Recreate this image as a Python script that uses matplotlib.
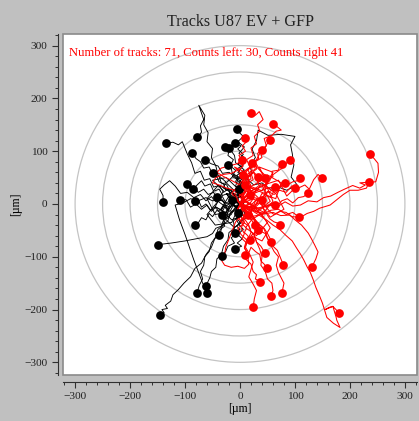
import matplotlib
matplotlib.use("Agg")
import matplotlib.pyplot as plt
from matplotlib.patches import Circle, Rectangle
from matplotlib.ticker import MultipleLocator

title = "Tracks U87 EV + GFP"
summary = "Number of tracks: 71, Counts left: 30, Counts right 41"
axis_label = "[\u00b5m]"
ring_radii = [50, 100, 150, 200, 250, 300]
tick_values = [-300, -200, -100, 0, 100, 200, 300]

# Tracks ending left of the origin, flat x0, y0, x1, y1, ... in µm
left_tracks = [
    [0, 0, -8, 10, -3, 18, -15, 15, -22, 28, -30, 22, -38, 35, -48, 32, -55, 48, -65, 45, -72, 62, -82, 58, -88, 78, -96, 95, -105, 118, -112, 112, -122, 117, -135, 115],
    [0, 0, -6, 12, -14, 8, -20, 24, -30, 30, -26, 42, -40, 55, -44, 72, -52, 88, -50, 105, -60, 118, -58, 135, -66, 150, -64, 168, -75, 187, -70, 172, -66, 160, -72, 148, -70, 136, -78, 126],
    [0, 0, -10, 6, -8, 18, -18, 22, -24, 36, -34, 40, -38, 52, -50, 56, -56, 70, -66, 68, -72, 80, -80, 86, -87, 96],
    [0, 0, -10, -4, -16, 6, -26, 2, -32, 14, -42, 10, -48, 22, -58, 18, -66, 28, -76, 22, -84, 34, -92, 30, -96, 38],
    [0, 0, -6, 10, -16, 8, -22, 20, -32, 16, -38, 28, -48, 24, -54, 38, -64, 34, -70, 44, -78, 36, -85, 28],
    [0, 0, -10, 4, -18, -6, -28, -2, -34, -12, -44, -6, -52, -14, -60, -2, -70, -10, -80, 0, -90, -6, -98, 8, -109, 8],
    [0, 0, -8, -6, -16, 2, -26, -4, -32, 8, -44, 4, -52, 14, -62, 6, -72, 18, -84, 12, -96, 22, -108, 20, -118, 34, -128, 44, -138, 36, -146, 28, -140, 16, -140, 4],
    [0, 0, -6, -8, -14, -2, -22, -12, -30, -4, -38, -14, -46, -6, -54, -12, -62, 0, -70, -6, -76, 8, -82, 6],
    [0, 0, 4, 10, -4, 18, 2, 28, -8, 34, -4, 46, -14, 52, -8, 64, -18, 72, -12, 84, -22, 92, -20, 100, -27, 108],
    [0, 0, -5, 10, 3, 18, -4, 28, 5, 36, -6, 46, 4, 56, -6, 66, 6, 74, -2, 84, 6, 94, -4, 104, 2, 110, -9, 115],
    [0, 0, 6, 8, -3, 16, 7, 26, -4, 34, 6, 44, -6, 54, 8, 64, -4, 76, 10, 86, -2, 96, 8, 108, -4, 118, 6, 128, -2, 136, -5, 142],
    [0, 0, -8, -6, -14, 2, -20, -10, -28, -6, -34, -18, -42, -12, -50, -24, -56, -18, -62, -30, -70, -26, -76, -36, -82, -40],
    [0, 0, -6, -10, -16, -14, -20, -26, -30, -30, -34, -42, -44, -46, -50, -56, -60, -62, -80, -66, -100, -70, -125, -74, -149, -77],
    [0, 0, -6, -8, -12, -2, -18, -14, -24, -10, -22, -24, -30, -30, -28, -42, -36, -48, -38, -58],
    [0, 0, 4, -8, -4, -14, 3, -22, -6, -28, 2, -36, -6, -42, 0, -48, -9, -55],
    [0, 0, -6, -10, 2, -18, -8, -28, -2, -38, -12, -46, -6, -56, -16, -64, -10, -74, -22, -80, -26, -90, -33, -98],
    [0, 0, 4, -10, -4, -18, 5, -28, -3, -38, 6, -48, -4, -58, 4, -66, -5, -74, 3, -80, -9, -85],
    [0, 0, -6, -12, -2, -24, -12, -32, -10, -46, -20, -54, -22, -68, -30, -80, -34, -96, -42, -104, -44, -120, -52, -128, -55, -140, -62, -155],
    [0, 0, -10, -8, -16, -20, -26, -26, -30, -40, -40, -48, -44, -62, -52, -74, -56, -90, -64, -100, -66, -116, -72, -128, -68, -142, -74, -154, -78, -168],
    [0, 0, -12, 4, -24, 0, -36, 8, -50, 6, -62, 12, -76, 6, -90, 10, -104, 2, -118, -2, -110, -30, -100, -58, -92, -82, -84, -106, -76, -128, -68, -150, -62, -160, -60, -168],
    [0, 0, -8, -12, -18, -18, -22, -32, -32, -40, -36, -56, -46, -66, -52, -82, -62, -96, -70, -112, -82, -122, -90, -138, -102, -150, -112, -162, -122, -172, -126, -184, -136, -192, -132, -198, -142, -200, -138, -206, -145, -211],
    [0, 0, -20, 15, -35, -10, -15, -30, 10, -20, 5, 10, -25, 40, -10, 55, 8, 35, -2, 28],
    [0, 0, -6, 8, -2, 16, -12, 18, -18, 28, -26, 26, -30, 38, -38, 42, -42, 52, -49, 58],
    [0, 0, -15, 25, -40, 35, -60, 10, -45, -20, -20, -15, -30, 5, -42, 13],
    [0, 0, 12, -25, -10, -45, -30, -25, -15, 5, -25, 20, -8, -5, -3, -17],
    [0, 0, -4, 10, 4, 18, -6, 26, 2, 34, -8, 42, -4, 52, -14, 58, -16, 68, -22, 74],
    [0, 0, -20, -20, -45, -5, -30, 25, -50, 45, -25, 50, -5, 30, -20, 20, -15, 8],
    [0, 0, -15, -35, -45, -40, -60, -20, -40, 5, -20, -10, -33, -21],
    [0, 0, 6, 10, 0, 20, 8, 30, -2, 40, 6, 52, -4, 60, 4, 70, -8, 78, -10, 92, -20, 106],
    [0, 0, 8, 12, 2, 24, 14, 34, 10, 48, 22, 58, 18, 72, 28, 88, 22, 104, 30, 120, 33, 140, 51, 130, 75, 132, 100, 128, 92, 112, 95, 96, 98, 74, 93, 51, 104, 36, 85, 26, 70, 32, 55, 28, 40, 40, 25, 36, 10, 50, -5, 48, -20, 60, -32, 58, -40, 72, -52, 76, -64, 83],
]

# Tracks ending right of the origin
right_tracks = [
    [0, 0, 6, 10, 2, 22, 10, 30, 4, 42, 14, 50, 8, 62, 18, 70, 12, 84, 24, 92, 20, 106, 30, 114, 26, 128, 36, 138, 32, 150, 42, 160, 35, 175, 28, 168, 20, 172],
    [0, 0, 8, 8, 6, 20, 16, 26, 12, 38, 24, 46, 20, 58, 30, 66, 28, 80, 40, 88, 36, 102, 48, 110, 44, 124, 58, 130, 66, 138, 75, 140, 68, 146, 60, 151],
    [0, 0, 6, 10, -2, 20, 8, 28, -4, 38, -18, 46, -30, 52, -42, 60, -34, 68, -20, 72, -6, 76, 4, 82, -2, 92, 10, 100, 4, 110, 12, 118, 9, 125],
    [0, 0, 10, 6, 16, -2, 24, 10, 22, 22, 32, 26, 38, 38, 48, 34, 52, 46, 60, 52, 58, 62, 70, 64, 72, 72, 76, 75],
    [0, 0, 12, 6, 20, -2, 30, 8, 42, 14, 50, 24, 62, 18, 72, 26, 84, 22, 94, 34, 106, 30, 118, 36, 126, 28, 134, 46, 142, 56, 149, 49],
    [0, 0, 8, -6, 16, 2, 24, -4, 30, 10, 40, 6, 48, 16, 56, 12, 62, 26, 72, 30, 76, 40, 82, 40],
    [0, 0, 25, 10, 15, 35, 40, 25, 60, 60, 35, 70, 45, 49],
    [0, 0, -10, 20, 20, 35, 5, 60, 30, 75, 45, 50, 33, 51],
    [0, 0, 10, -6, 18, 2, 28, -6, 38, 4, 48, -4, 58, 2, 66, -6, 76, 6, 86, 10, 96, 2, 106, 12, 116, 14, 124, 21],
    [0, 0, 6, 8, -2, 14, 4, 22, -10, 26, -24, 30, -38, 36, -50, 40, -44, 50, -30, 56, -16, 58, -4, 64, 6, 72, -2, 78, 4, 83],
    [0, 0, 12, 4, 22, -4, 34, 2, 46, -6, 58, 0, 70, -4, 82, 4, 96, -4, 110, -2, 124, 6, 140, 4, 152, 12, 165, 15, 178, 22, 190, 28, 205, 35, 218, 30, 228, 36, 218, 40, 247, 42, 252, 60, 251, 77, 244, 86, 236, 94],
    [0, 0, 10, -8, 20, -4, 30, -14, 44, -18, 56, -12, 70, -10, 84, -20, 96, -16, 109, -26, 122, -18, 134, -14, 145, -8, 164, -2, 176, 8, 188, 18, 200, 26, 215, 26, 230, 30, 235, 42],
    [0, 0, 10, -4, 18, -12, 28, -6, 38, -10, 46, -4, 54, -14, 62, -20, 72, -14, 84, -16, 94, -24, 107, -25],
    [0, 0, 6, -10, 12, -18, 20, -16, 24, -28, 30, -36, 28, -48, 38, -52, 46, -56, 50, -66, 56, -72],
    [0, 0, 8, -8, 14, -16, 6, -26, 8, -36, 16, -42, 20, -52, 26, -60, 30, -72, 38, -80, 45, -92],
    [0, 0, 10, -8, 20, -14, 26, -28, 34, -38, 44, -46, 50, -56, 56, -68, 60, -80, 68, -88, 72, -98, 76, -108, 78, -115],
    [0, 0, -4, -12, 2, -22, -8, -34, -14, -50, -20, -66, -26, -82, -28, -96, -34, -106, -28, -116, -16, -120, -4, -118, 8, -122, 16, -114, 14, -98, 20, -82, 28, -90, 36, -96, 38, -108, 44, -114, 49, -121],
    [0, 0, 12, -6, 24, -4, 36, -12, 48, -18, 60, -16, 74, -22, 91, -21, 100, -30, 112, -40, 124, -55, 130, -66, 136, -78, 142, -91, 138, -104, 131, -119],
    [0, 0, 6, -12, 2, -24, 8, -36, -4, -46, 2, -58, 12, -68, 8, -82, 14, -94, 10, -104, 20, -114, 24, -128, 30, -134, 28, -142, 36, -147],
    [0, 0, 8, -10, 16, -20, 22, -32, 30, -44, 26, -58, 30, -72, 36, -86, 40, -100, 38, -116, 46, -128, 50, -142, 58, -150, 60, -164, 56, -175],
    [0, 0, 12, -12, 24, -24, 32, -36, 44, -48, 50, -64, 56, -78, 62, -90, 70, -100, 66, -116, 70, -130, 76, -142, 80, -150, 78, -160, 76, -168],
    [0, 0, 4, -14, 8, -28, 16, -40, 20, -54, 14, -68, 10, -82, 18, -96, 24, -110, 20, -124, 16, -138, 24, -152, 30, -164, 26, -180, 24, -196],
    [0, 0, 12, -8, 24, -14, 36, -22, 48, -30, 60, -40, 72, -48, 84, -60, 95, -70, 102, -82, 110, -95, 116, -106, 122, -119, 128, -130, 133, -143, 138, -158, 145, -175, 150, -188, 158, -215, 170, -226, 182, -234, 176, -220, 175, -215, 169, -194, 155, -200, 162, -196, 169, -194, 180, -206],
    [0, 0, 25, -10, 40, 20, 65, 10, 75, 40, 50, 55, 45, 30, 64, 32],
    [0, 0, 30, -15, 55, 5, 40, 35, 70, 45, 85, 15, 100, 30],
    [0, 0, 20, -15, 35, 10, 15, 30, 40, 45, 25, 60, 5, 40, 30, 25, 18, 17],
    [0, 0, 25, 20, 50, 30, 60, 5, 40, -20, 20, -10, 45, -5, 40, 8],
    [0, 0, 20, -30, 45, -15, 35, 10, 10, 15, -5, -10, 5, -30, 15, -21],
    [0, 0, 30, -10, 50, -35, 30, -60, 10, -45, 25, -25, 27, -40],
    [0, 0, 20, 25, 45, 35, 65, 20, 80, -10, 55, -25, 40, -5, 64, -2],
    [0, 0, -15, 20, 5, 45, 25, 60, 35, 35, 15, 20, 9, 36],
    [0, 0, 10, 8, 20, 12, 30, 6, 40, 10, 48, 20, 58, 26, 66, 30, 76, 34, 86, 36, 96, 42, 104, 44, 109, 49],
    [0, 0, 6, 8, 2, 16, 10, 22, 4, 32, 12, 40, 10, 50, 18, 56, 14, 66, 20, 70, 22, 77],
    [0, 0, 8, 10, 4, 20, 14, 28, 10, 40, 20, 48, 18, 60, 28, 66, 24, 78, 34, 86, 32, 96, 40, 102],
    [0, 0, 4, 12, 10, 22, 6, 34, 16, 42, 14, 56, 22, 64, 20, 76, 30, 84, 36, 96, 44, 102, 48, 112, 55, 121],
    [0, 0, 6, -8, 2, -16, 8, -24, 0, -32, 6, -40, 12, -46, 8, -54, 14, -60, 18, -68],
    [0, 0, -3, -10, 4, -18, -2, -28, 6, -36, 2, -46, 8, -56, 4, -66, 12, -74, 8, -84, 12, -90, 9, -96],
    [0, 0, 10, -2, 18, -8, 26, -4, 32, -14, 40, -20, 48, -18, 54, -28, 62, -34, 68, -36, 73, -40],
    [0, 0, 10, 6, 16, 14, 26, 18, 30, 28, 38, 34, 46, 36, 54, 44, 58, 54, 66, 60, 74, 66, 82, 72, 86, 80, 91, 83],
    [0, 0, 20, 30, 45, 20, 50, 50, 25, 75, 10, 60, -10, 70, 5, 55],
    [0, 0, 15, -25, 40, -20, 55, -45, 40, -70, 20, -60, 33, -49],
]

serif = ["Liberation Serif", "DejaVu Serif"]
bg = "#c0c0c0"

fig = plt.figure(figsize=(4.19, 4.21), dpi=100, facecolor=bg)
ax = fig.add_axes([63 / 419, 46 / 421, 354 / 419, 341 / 421])
ax.set_facecolor("white")
ax.set_xlim(-322, 322)
ax.set_ylim(-324, 322)

# concentric distance rings
for r in ring_radii:
    ax.add_patch(Circle((0, 0), r, fill=False, edgecolor="#c4c4c4", lw=0.9, zorder=1))


def draw_tracks(tracks, color, lw):
    for tr in tracks:
        ax.plot(tr[0::2], tr[1::2], color=color, lw=lw, zorder=2)


draw_tracks(left_tracks, "black", 0.65)
draw_tracks(right_tracks, "#ff0000", 0.75)

for tracks, color in ((left_tracks, "black"), (right_tracks, "#ff0000")):
    ax.plot([t[-2] for t in tracks], [t[-1] for t in tracks], "o",
            color=color, ms=6.3, mec="none", zorder=3)

ax.text(0.017, 0.963, summary, transform=ax.transAxes, color="#ff0000",
        fontsize=9.1, family=serif, va="top", ha="left")

# sunken frame round the plot area
for spine in ("top", "right"):
    ax.spines[spine].set_visible(False)
ax.add_patch(Rectangle((0, 0), 1, 1, transform=ax.transAxes, fill=False,
                       edgecolor="#8a8a8a", lw=1.2, clip_on=False, zorder=5))

ax.spines["left"].set_position(("outward", 3.8))
ax.spines["bottom"].set_position(("outward", 5.0))
for s in ("left", "bottom"):
    ax.spines[s].set_color("#303030")
    ax.spines[s].set_linewidth(0.8)

ax.set_xticks(tick_values)
ax.set_yticks(tick_values)
ax.xaxis.set_minor_locator(MultipleLocator(20))
ax.yaxis.set_minor_locator(MultipleLocator(20))
ax.tick_params(which="major", direction="out", length=4.5, width=0.8,
               color="#303030", labelsize=8.2, pad=3, labelcolor="#222222")
ax.tick_params(which="minor", direction="out", length=2.5, width=0.7, color="#303030")
for lbl in ax.get_xticklabels() + ax.get_yticklabels():
    lbl.set_family(serif)

ax.set_xlabel(axis_label, family=serif, fontsize=8.5, labelpad=1)
ax.set_ylabel(axis_label, family=serif, fontsize=8.5, labelpad=1.5)
ax.set_title(title, family=serif, fontsize=11.6, pad=6, color="#222222")

fig.savefig("out.png", dpi=100, facecolor=bg)
